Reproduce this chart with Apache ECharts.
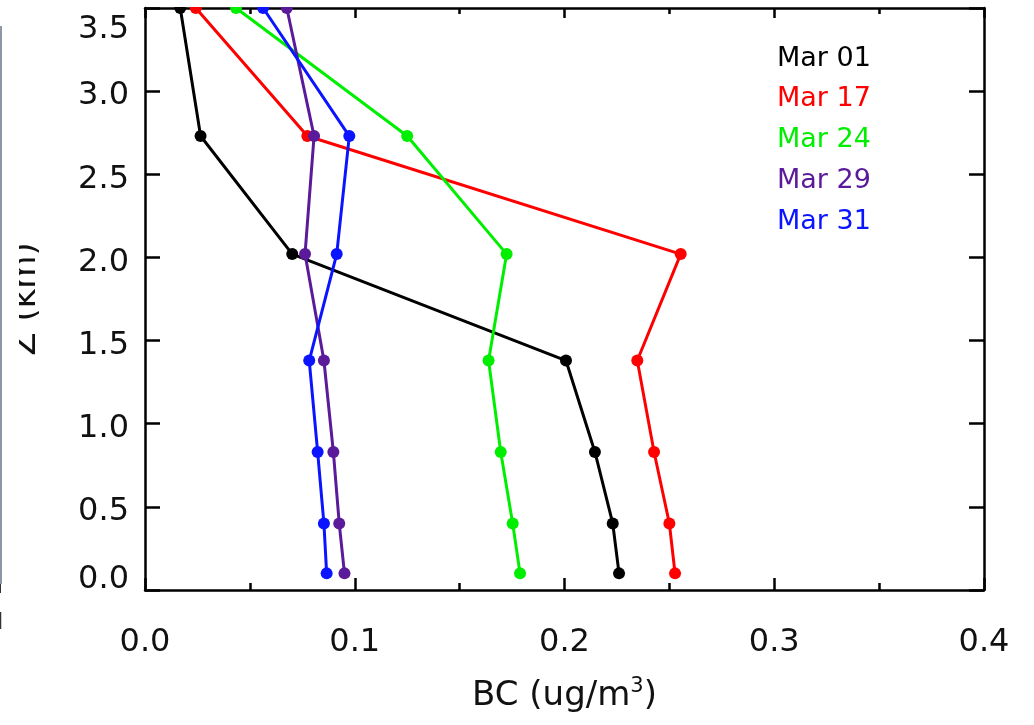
<!DOCTYPE html>
<html>
<head>
<meta charset="utf-8">
<script src="https://cdn.jsdelivr.net/npm/echarts@6/dist/echarts.min.js"></script>
<style>
  html, body { margin: 0; padding: 0; background: #fff; }
  #chart { width: 1034px; height: 725px; }
</style>
</head>
<body>
<div id="chart"></div>
<script>
// Altitude levels (km) of the profile samples
const altitudes = [0.1, 0.4, 0.83, 1.38, 2.02, 2.73, 3.5];

// Black carbon concentration (ug/m3) at each altitude, one profile per flight day
const mar01 = [0.226, 0.223, 0.2145, 0.2007, 0.0702, 0.0265, 0.0168];
const mar17 = [0.2527, 0.250, 0.2427, 0.2347, 0.2554, 0.0774, 0.0242];
const mar24 = [0.1788, 0.1753, 0.1696, 0.1638, 0.1724, 0.125, 0.0434];
const mar29 = [0.0951, 0.0926, 0.0898, 0.0853, 0.0763, 0.0806, 0.0676];
const mar31 = [0.0866, 0.0853, 0.0823, 0.0783, 0.0914, 0.0974, 0.0563];

const dayNames = ['Mar 01', 'Mar 17', 'Mar 24', 'Mar 29', 'Mar 31'];
const dayColors = ['#000000', '#ff0000', '#00ee00', '#5a1a9a', '#0a14ff'];
const profiles = [mar01, mar17, mar24, mar29, mar31];

const FONT = 'DejaVu Sans';
const TXT = '#111111';
const TICK_FS = 32;

const chart = echarts.init(document.getElementById('chart'), null, { renderer: 'canvas' });

const series = profiles.map((vals, i) => ({
  name: dayNames[i],
  type: 'line',
  xAxisIndex: 0,
  yAxisIndex: 0,
  data: vals.map((v, k) => [v, altitudes[k]]),
  symbol: 'circle',
  symbolSize: 12,
  clip: true,
  lineStyle: { color: dayColors[i], width: 3 },
  itemStyle: { color: dayColors[i] },
  emphasis: { disabled: true },
  z: 2 + i
}));

const axisBase = {
  type: 'value',
  axisLine: { show: true, onZero: false, lineStyle: { color: '#000', width: 2.5 } },
  splitLine: { show: false }
};

chart.setOption({
  animation: false,
  backgroundColor: '#fff',
  grid: { left: 145, right: 50, top: 8, bottom: 135, containLabel: false },
  legend: {
    orient: 'vertical',
    left: 767,
    top: 40,
    itemWidth: 0,
    itemHeight: 27,
    itemGap: 13.8,
    icon: 'rect',
    itemStyle: { opacity: 0 },
    lineStyle: { opacity: 0 },
    selectedMode: false,
    textStyle: { fontFamily: FONT, fontSize: 27 },
    data: dayNames.map((n, i) => ({ name: n, textStyle: { color: dayColors[i] } }))
  },
  xAxis: [
    Object.assign({}, axisBase, {
      position: 'bottom',
      min: 0, max: 0.4, interval: 0.1,
      name: '{n|BC (ug/m}{s|3}{n|)}',
      nameLocation: 'middle',
      nameGap: 86,
      nameTextStyle: {
        rich: {
          n: { fontFamily: FONT, fontSize: 34, color: TXT },
          s: { fontFamily: FONT, fontSize: 21, color: TXT, verticalAlign: 'top', padding: [0, 0, 20, 0] }
        }
      },
      axisTick: { show: true, inside: true, length: 12, lineStyle: { color: '#000', width: 2.5 } },
      minorTick: { show: true, splitNumber: 2, length: 7, lineStyle: { color: '#000', width: 2.5 } },
      axisLabel: {
        margin: 37,
        fontFamily: FONT, fontSize: TICK_FS, color: TXT,
        formatter: v => v.toFixed(1)
      }
    }),
    Object.assign({}, axisBase, {
      position: 'top',
      min: 0, max: 0.4, interval: 0.1,
      axisTick: { show: true, inside: true, length: 10, lineStyle: { color: '#000', width: 2.5 } },
      minorTick: { show: true, splitNumber: 2, length: 6, lineStyle: { color: '#000', width: 2.5 } },
      axisLabel: { show: false }
    })
  ],
  yAxis: [
    Object.assign({}, axisBase, {
      position: 'left',
      min: 0, max: 3.5, interval: 0.5,
      name: 'Z (km)',
      nameLocation: 'middle',
      nameGap: 102,
      nameTextStyle: { fontFamily: FONT, fontSize: 34, color: TXT },
      axisTick: { show: true, inside: true, length: 15, lineStyle: { color: '#000', width: 2.5 } },
      axisLabel: {
        margin: 16,
        fontFamily: FONT, fontSize: TICK_FS, color: TXT,
        formatter: v => {
          const s = v.toFixed(1);
          if (Math.abs(v - 3.5) < 1e-9) return '{t|' + s + '}';
          if (Math.abs(v) < 1e-9) return '{b|' + s + '}';
          return '{m|' + s + '}';
        },
        rich: {
          t: { fontFamily: FONT, fontSize: TICK_FS, color: TXT, padding: [44, 0, 0, 0] },
          m: { fontFamily: FONT, fontSize: TICK_FS, color: TXT, padding: [10, 0, 0, 0] },
          b: { fontFamily: FONT, fontSize: TICK_FS, color: TXT, padding: [0, 0, 20, 0] }
        }
      }
    }),
    Object.assign({}, axisBase, {
      position: 'right',
      min: 0, max: 3.5, interval: 0.5,
      axisTick: { show: true, inside: true, length: 15, lineStyle: { color: '#000', width: 2.5 } },
      axisLabel: { show: false }
    })
  ],
  graphic: [
    // band above the frame so markers sitting on the top edge read as cut by it
    { type: 'rect', z: 100, shape: { x: 146, y: 0, width: 837, height: 7 }, style: { fill: '#fff' } },
    // strip at the far left edge with the neighbouring panel's border
    { type: 'rect', z: 100, shape: { x: 2, y: 0, width: 17, height: 725 }, style: { fill: '#fff' } },
    { type: 'line', z: 101, shape: { x1: 1, y1: 26, x2: 1, y2: 584 }, style: { stroke: '#8e96a8', lineWidth: 2 } },
    { type: 'line', z: 101, shape: { x1: 0.5, y1: 584, x2: 0.5, y2: 593 }, style: { stroke: '#333', lineWidth: 1 } },
    { type: 'line', z: 101, shape: { x1: 0.5, y1: 612, x2: 0.5, y2: 629 }, style: { stroke: '#333', lineWidth: 1.5 } }
  ],
  series: series
});
</script>
</body>
</html>
